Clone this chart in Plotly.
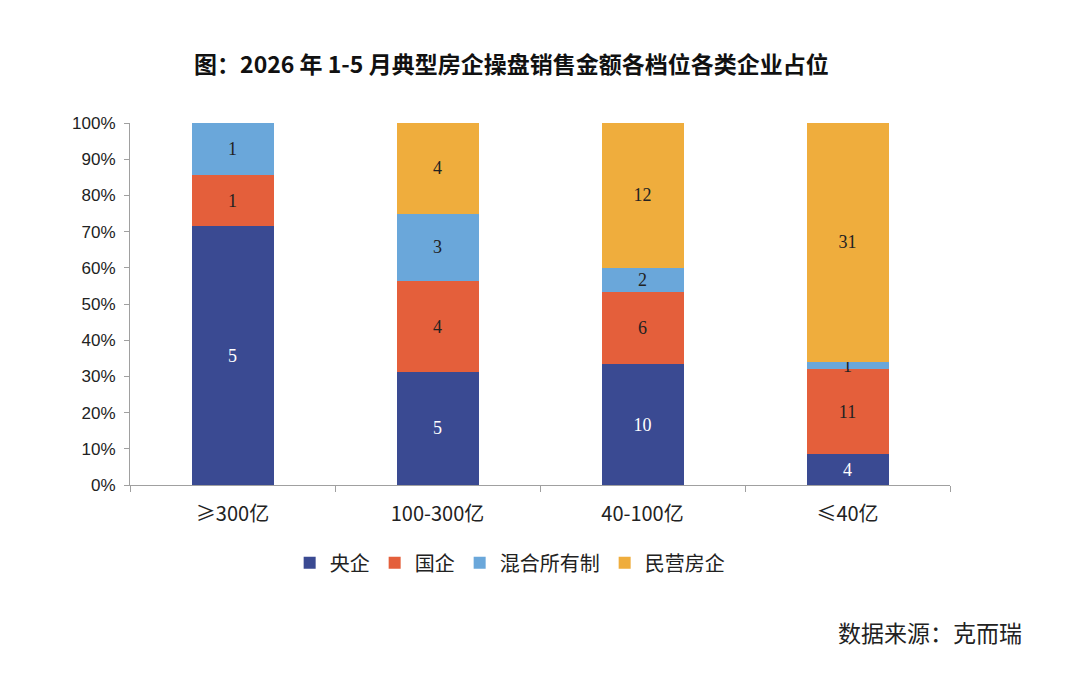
import plotly.graph_objects as go

categories = ["≥300亿", "100-300亿", "40-100亿", "≤40亿"]
series_names = ["央企", "国企", "混合所有制", "民营房企"]
central = [5, 5, 10, 4]
state = [1, 4, 6, 11]
mixed = [1, 3, 2, 1]
private = [0, 4, 12, 31]

colors = ["#3a4a92", "#e45f3b", "#6aa7da", "#efad3d"]
text_colors = ["white", "#222222", "#222222", "#222222"]

font_cn = "Noto Sans CJK SC"

fig = go.Figure()
for name, vals, c, tc in zip(series_names, [central, state, mixed, private], colors, text_colors):
    fig.add_trace(
        go.Bar(
            x=categories,
            y=vals,
            name=name,
            marker=dict(color=c, line=dict(width=0)),
            text=[str(v) if v > 0 else "" for v in vals],
            textposition="inside",
            insidetextanchor="middle",
            constraintext="none",
            textangle=0,
            textfont=dict(color=tc, size=18, family="Liberation Serif"),
            cliponaxis=False,
        )
    )

# page body adds an 8px offset, margins are trimmed to compensate
fig.update_layout(
    barmode="stack",
    barnorm="percent",
    bargap=0.6,
    width=1071,
    height=681,
    paper_bgcolor="white",
    plot_bgcolor="white",
    margin=dict(l=122, r=129, t=115, b=204),
    font=dict(family=font_cn, size=15, color="#222222"),
    title=dict(
        text="<b>图：2026 年 1-5 月典型房企操盘销售金额各档位各类企业占位</b>",
        x=0.47,
        xanchor="center",
        y=0.916,
        yanchor="middle",
        font=dict(size=23, color="#111111"),
    ),
    legend=dict(
        orientation="h",
        x=0.463,
        xanchor="center",
        y=-0.215,
        yanchor="middle",
        font=dict(size=20),
        itemwidth=30,
        tracegroupgap=0,
        traceorder="normal",
    ),
    showlegend=True,
    uniformtext=dict(minsize=15, mode="show"),
)

fig.update_yaxes(
    range=[0, 100.0001],
    tickmode="linear",
    tick0=0,
    dtick=10,
    ticksuffix="%",
    showgrid=False,
    showline=True,
    linecolor="#a0a0a0",
    ticks="outside",
    ticklen=5,
    tickcolor="#a0a0a0",
    ticklabelstandoff=5,
    tickfont=dict(size=17, family="Liberation Sans"),
    zeroline=False,
)
fig.update_xaxes(
    showline=True,
    linecolor="#a0a0a0",
    ticks="outside",
    tickson="boundaries",
    ticklen=6,
    tickcolor="#a0a0a0",
    ticklabelstandoff=11,
    tickfont=dict(size=20),
    showgrid=False,
)

fig.add_annotation(
    text="数据来源：克而瑞",
    xref="paper",
    yref="paper",
    x=1.09,
    xanchor="right",
    y=-0.406,
    yanchor="middle",
    showarrow=False,
    font=dict(size=23, color="#222222"),
)

fig.write_html("out.html")
